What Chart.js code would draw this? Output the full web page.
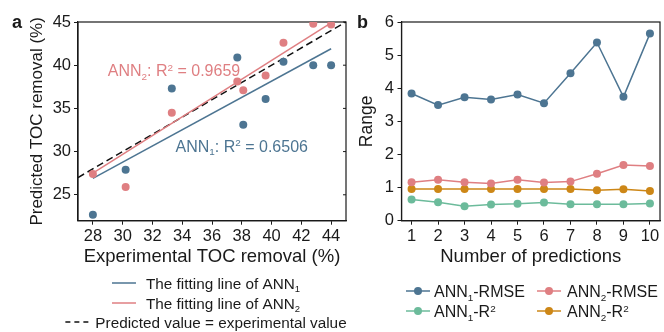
<!DOCTYPE html>
<html>
<head>
<meta charset="utf-8">
<script src="https://cdn.jsdelivr.net/npm/chart.js@4.4.1/dist/chart.umd.min.js"></script>
<style>
  html, body { margin: 0; padding: 0; background: #fff; }
  #wrap { position: relative; width: 664px; height: 332px; overflow: hidden; }
  #chartA { position: absolute; left: 0; top: 0; width: 364px; height: 332px; }
  #chartB { position: absolute; left: 350px; top: 0; width: 314px; height: 332px; }
</style>
</head>
<body>
<div id="wrap">
  <canvas id="chartA" width="364" height="332"></canvas>
  <canvas id="chartB" width="314" height="332"></canvas>
</div>
<script>
// panel a: experimental vs predicted TOC removal (%)
var expTOC   = [28.0, 30.2, 33.3, 37.7, 38.1, 39.6, 40.8, 42.8, 44.0];
var predANN1 = [22.7, 27.9, 37.3, 40.9, 33.1, 36.1, 40.4, 40.0, 40.0];
var predANN2 = [27.4, 25.9, 34.5, 38.1, 37.1, 38.8, 42.6, 44.8, 44.7];
var fitX     = [28, 44];
var fitANN1  = [26.9, 41.9];
var fitANN2  = [27.5, 44.9];
var idealX   = [27, 45];
var xTicksA  = [28, 30, 32, 34, 36, 38, 40, 42, 44];
var yTicksA  = [25, 30, 35, 40, 45];

// panel b: metrics per prediction run
var predCount = [1, 2, 3, 4, 5, 6, 7, 8, 9, 10];
var ann1RMSE  = [3.84, 3.49, 3.73, 3.66, 3.81, 3.55, 4.45, 5.38, 3.74, 5.65];
var ann2RMSE  = [1.16, 1.24, 1.16, 1.12, 1.24, 1.15, 1.18, 1.42, 1.68, 1.65];
var ann1R2    = [0.64, 0.56, 0.44, 0.49, 0.51, 0.55, 0.50, 0.50, 0.50, 0.52];
var ann2R2    = [0.96, 0.96, 0.96, 0.96, 0.96, 0.96, 0.96, 0.92, 0.95, 0.90];
var yTicksB   = [0, 1, 2, 3, 4, 5, 6];

var FONT = '"Liberation Sans", Arial, Helvetica, sans-serif';
var INK = '#1a1a1a';
var BLUE = '#4d7592';
var PINK = '#df7f82';
var GREEN = '#6cbb9b';
var ORANGE = '#cd8717';

Chart.defaults.font.family = FONT;
Chart.defaults.color = INK;

function pts(xs, ys) {
    return xs.map(function(x, i) { return {x: x, y: ys[i]}; });
}

// text with sub/superscript pieces: [['ANN'], ['1', 'sub'], ...]
function drawRich(ctx, segs, x, y, size, color, measureOnly) {
    var w = 0;
    ctx.save();
    ctx.fillStyle = color;
    ctx.textBaseline = 'alphabetic';
    ctx.textAlign = 'left';
    segs.forEach(function(s) {
        var fs = s[1] ? size * 0.62 : size;
        ctx.font = fs + 'px ' + FONT;
        var dy = s[1] === 'sub' ? size * 0.22 : (s[1] === 'sup' ? -size * 0.33 : 0);
        if (!measureOnly) ctx.fillText(s[0], x + w, y + dy);
        w += ctx.measureText(s[0]).width;
    });
    ctx.restore();
    return w;
}

function drawSample(ctx, item, x, y, len) {
    ctx.save();
    ctx.strokeStyle = item.color;
    ctx.lineWidth = 1.5;
    ctx.setLineDash(item.dash || []);
    ctx.beginPath();
    ctx.moveTo(x, y);
    ctx.lineTo(x + len, y);
    ctx.stroke();
    if (item.marker) {
        ctx.setLineDash([]);
        ctx.fillStyle = item.color;
        ctx.beginPath();
        ctx.arc(x + len / 2, y, 4, 0, Math.PI * 2);
        ctx.fill();
    }
    ctx.restore();
}

// frame, panel letter, annotations and legend
var decor = {
    id: 'decor',
    beforeDatasetsDraw: function(chart, args, opts) {
        var ctx = chart.ctx, a = chart.chartArea;
        ctx.save();
        ctx.strokeStyle = INK;
        ctx.lineWidth = 1.2;
        ctx.strokeRect(a.left, a.top, a.right - a.left, a.bottom - a.top);
        if (opts.mirrorTicks) {
            var ys = chart.scales.y;
            ctx.lineWidth = 1;
            ys.ticks.forEach(function(t) {
                var py = ys.getPixelForValue(t.value);
                ctx.beginPath();
                ctx.moveTo(a.right, py);
                ctx.lineTo(a.right - 3, py);
                ctx.stroke();
            });
        }
        ctx.restore();
    },
    afterDraw: function(chart, args, opts) {
        var ctx = chart.ctx;
        ctx.save();
        ctx.fillStyle = INK;
        ctx.font = 'bold 18px ' + FONT;
        ctx.textBaseline = 'alphabetic';
        ctx.fillText(opts.letter.text, opts.letter.x, opts.letter.y);
        ctx.restore();

        (opts.notes || []).forEach(function(n) {
            var px = chart.scales.x.getPixelForValue(n.x);
            var py = chart.scales.y.getPixelForValue(n.y);
            drawRich(ctx, n.segs, px, py, 16, n.color);
        });

        var lg = opts.legend;
        if (!lg) return;
        lg.items.forEach(function(it) {
            var tw = drawRich(ctx, it.segs, 0, 0, lg.size, INK, true);
            var x0;
            if (lg.center !== undefined) {
                x0 = lg.center - (lg.sample + it.gap + tw) / 2;
            } else {
                x0 = it.x;
            }
            drawSample(ctx, it, x0, it.y, lg.sample);
            drawRich(ctx, it.segs, x0 + lg.sample + it.gap, it.y + 6, lg.size, INK);
        });
    }
};

function fixedTicks(list) {
    return function(scale) {
        scale.ticks = list.map(function(v) { return {value: v}; });
    };
}

var axisCommon = {
    grid: {display: true, drawOnChartArea: false, drawTicks: true, tickLength: 4, color: INK, lineWidth: 1},
    border: {display: true, color: INK, width: 1.2}
};

// ---- panel a ----
new Chart(document.getElementById('chartA'), {
    type: 'scatter',
    data: {
        datasets: [
            {label: 'ANN1', data: pts(expTOC, predANN1), backgroundColor: BLUE, borderColor: BLUE, pointRadius: 4, pointBorderWidth: 0},
            {label: 'ANN2', data: pts(expTOC, predANN2), backgroundColor: PINK, borderColor: PINK, pointRadius: 4, pointBorderWidth: 0},
            {type: 'line', label: 'The fitting line of ANN1', data: pts(fitX, fitANN1), borderColor: BLUE, borderWidth: 1.5, pointRadius: 0, fill: false},
            {type: 'line', label: 'The fitting line of ANN2', data: pts(fitX, fitANN2), borderColor: PINK, borderWidth: 1.5, pointRadius: 0, fill: false},
            {type: 'line', label: 'Predicted value = experimental value', data: pts(idealX, idealX), borderColor: '#111', borderWidth: 1.5, borderDash: [7, 4], pointRadius: 0, fill: false}
        ]
    },
    options: {
        responsive: false,
        animation: false,
        layout: {padding: {left: 0, top: 22, right: 18, bottom: 64.3}},
        plugins: {
            legend: {display: false},
            tooltip: {enabled: false},
            decor: {
                letter: {text: 'a', x: 12, y: 28},
                mirrorTicks: true,
                notes: [
                    {x: 29.0, y: 38.75, color: PINK, segs: [['ANN'], ['2', 'sub'], [': R'], ['2', 'sup'], [' = 0.9659']]},
                    {x: 33.55, y: 30.0, color: BLUE, segs: [['ANN'], ['1', 'sub'], [': R'], ['2', 'sup'], [' = 0.6506']]}
                ],
                legend: {
                    center: 206, size: 15.3, sample: 24,
                    items: [
                        {color: BLUE, y: 283, gap: 10, segs: [['The fitting line of ANN'], ['1', 'sub']]},
                        {color: PINK, y: 303, gap: 10, segs: [['The fitting line of ANN'], ['2', 'sub']]},
                        {color: '#111', dash: [5, 4], y: 322, gap: 6, segs: [['Predicted value = experimental value']]}
                    ]
                }
            }
        },
        scales: {
            x: Object.assign({}, axisCommon, {
                type: 'linear', min: 27, max: 45,
                afterBuildTicks: fixedTicks(xTicksA),
                ticks: {font: {size: 16.5}, color: INK, padding: 2},
                title: {display: true, text: 'Experimental TOC removal (%)', font: {size: 18.5}, color: INK, padding: 0},
                afterFit: function(s) { s.height = 47; }
            }),
            y: Object.assign({}, axisCommon, {
                type: 'linear', min: 22, max: 45,
                afterBuildTicks: fixedTicks(yTicksA),
                ticks: {font: {size: 16.5}, color: INK, padding: 3},
                title: {display: true, text: 'Predicted TOC removal (%)', font: {size: 17}, color: INK, padding: {top: 27, bottom: 0}},
                afterFit: function(s) { s.width = 78; }
            })
        }
    },
    plugins: [decor]
});

// ---- panel b ----
new Chart(document.getElementById('chartB'), {
    type: 'line',
    data: {
        datasets: [
            {label: 'ANN1-RMSE', data: pts(predCount, ann1RMSE), borderColor: BLUE, backgroundColor: BLUE},
            {label: 'ANN2-RMSE', data: pts(predCount, ann2RMSE), borderColor: PINK, backgroundColor: PINK},
            {label: 'ANN1-R2', data: pts(predCount, ann1R2), borderColor: GREEN, backgroundColor: GREEN},
            {label: 'ANN2-R2', data: pts(predCount, ann2R2), borderColor: ORANGE, backgroundColor: ORANGE}
        ]
    },
    options: {
        responsive: false,
        animation: false,
        layout: {padding: {left: 0, top: 22, right: 1, bottom: 64.3}},
        elements: {
            line: {borderWidth: 1.5, tension: 0, fill: false},
            point: {radius: 4, borderWidth: 0}
        },
        plugins: {
            legend: {display: false},
            tooltip: {enabled: false},
            decor: {
                letter: {text: 'b', x: 7, y: 28},
                legend: {
                    size: 16, sample: 24,
                    items: [
                        {color: BLUE, marker: true, x: 56, y: 291, gap: 4, segs: [['ANN'], ['1', 'sub'], ['-RMSE']]},
                        {color: PINK, marker: true, x: 187, y: 291, gap: 6, segs: [['ANN'], ['2', 'sub'], ['-RMSE']]},
                        {color: GREEN, marker: true, x: 56, y: 311, gap: 4, segs: [['ANN'], ['1', 'sub'], ['-R'], ['2', 'sup']]},
                        {color: ORANGE, marker: true, x: 187, y: 311, gap: 6, segs: [['ANN'], ['2', 'sub'], ['-R'], ['2', 'sup']]}
                    ]
                }
            }
        },
        scales: {
            x: Object.assign({}, axisCommon, {
                type: 'linear', min: 0.62, max: 10.38,
                afterBuildTicks: fixedTicks(predCount),
                ticks: {font: {size: 16.5}, color: INK, padding: 2},
                title: {display: true, text: 'Number of predictions', font: {size: 18.5}, color: INK, padding: 0},
                afterFit: function(s) { s.height = 47; }
            }),
            y: Object.assign({}, axisCommon, {
                type: 'linear', min: 0, max: 6,
                afterBuildTicks: fixedTicks(yTicksB),
                ticks: {font: {size: 16.5}, color: INK, padding: 3.5},
                title: {display: true, text: 'Range', font: {size: 17.5}, color: INK, padding: {top: 7, bottom: 0}},
                afterFit: function(s) { s.width = 51.5; }
            })
        }
    },
    plugins: [decor]
});
</script>
</body>
</html>
